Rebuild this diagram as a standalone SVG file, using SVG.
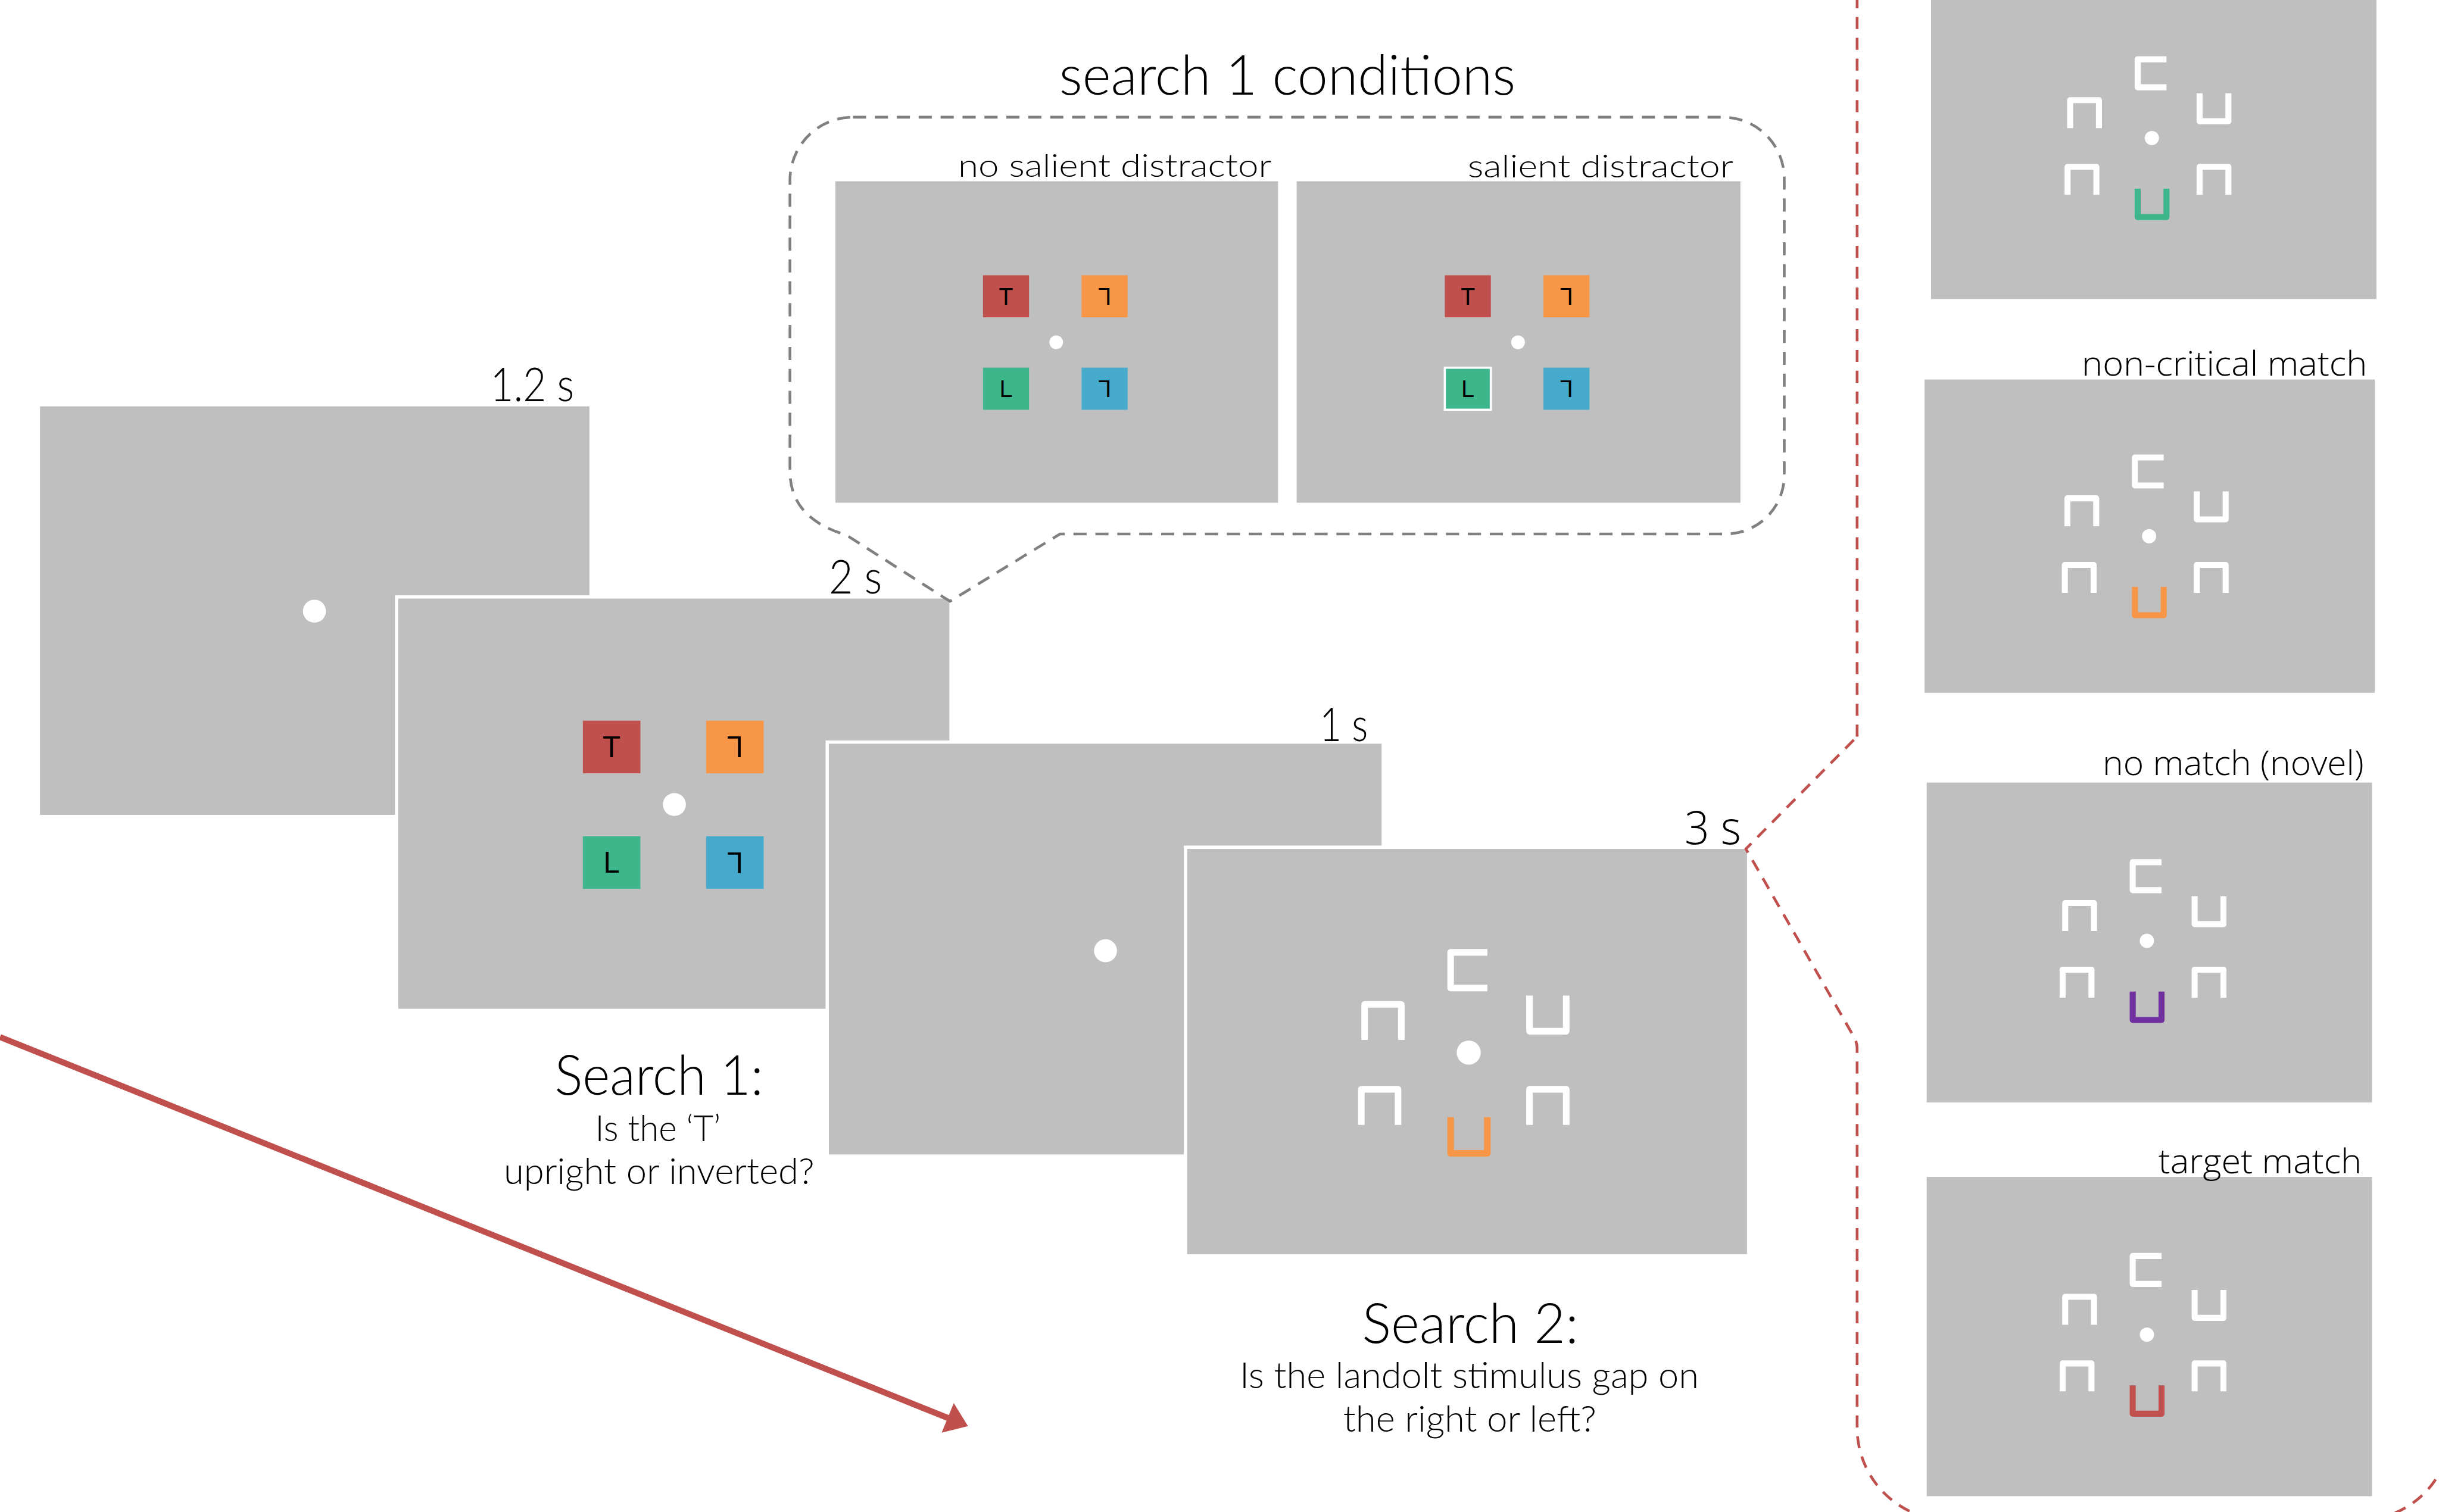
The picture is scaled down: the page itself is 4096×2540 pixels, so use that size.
<svg xmlns="http://www.w3.org/2000/svg" xmlns:xlink="http://www.w3.org/1999/xlink" width="4096" height="2540" viewBox="0 0 4096 2540">
  <style>
    .screen { fill: #bfbfbf; }
    .frame { fill: #bfbfbf; stroke: #ffffff; stroke-width: 6; }
    .fix { fill: #ffffff; }
    .txt { font-family: Lato, "Open Sans", "Liberation Sans", sans-serif; font-weight: 300; fill: #000000; }
    .wide { font-family: "Open Sans", Lato, "Liberation Sans", sans-serif; font-weight: 300; fill: #000000; }
    .head { font-size: 100px; }
    .sub { font-size: 67px; }
    .time { font-size: 85px; }
    .cond { font-size: 58px; }
    .match { font-size: 62px; }
    .letter { font-family: "Liberation Sans", Arial, sans-serif; font-size: 54px; fill: #000000; text-anchor: middle; }
    .ring { fill: none; stroke-linejoin: round; stroke-linecap: butt; }
    .bubble { fill: none; stroke: #808080; stroke-width: 5; stroke-dasharray: 24 16; }
    .bracket { fill: none; stroke: #c0504d; stroke-width: 5; stroke-dasharray: 22 16; }
  </style>
  <defs>
    <!-- four coloured letter tiles of the first search, centred on the fixation point -->
    <g id="search1-items">
      <rect x="-167" y="-153" width="105" height="96" fill="#c0504d"/>
      <rect x="58" y="-153" width="105" height="96" fill="#f79646"/>
      <rect x="-167" y="58" width="105" height="96" fill="#3db68c"/>
      <rect x="58" y="58" width="105" height="96" fill="#45aacb"/>
      <text class="letter" x="-114.5" y="-86">T</text>
      <text class="letter" x="110.5" y="-86" transform="rotate(180 110.5 -105)">L</text>
      <text class="letter" x="-114.5" y="125">L</text>
      <text class="letter" x="110.5" y="125" transform="rotate(180 110.5 106)">L</text>
    </g>
    <!-- five white Landolt squares around the fixation point -->
    <path id="landolt-white" d="M 34,-183 H -33 V -118 H 34 M -190,-23 V -88 H -123 V -23 M 111,-104 V -39 H 178 V -104 M -196,132 V 67 H -129 V 132 M 111,132 V 67 H 178 V 132"/>
    <!-- the coloured Landolt square below the fixation point -->
    <path id="landolt-colour" d="M -33,118 V 184 H 34 V 118"/>
  </defs>

  <rect width="4096" height="2540" fill="#ffffff"/>

  <g transform="scale(0.92)">
    <!-- trial sequence -->
    <g id="fixation-1">
      <rect class="frame" x="70" y="739" width="1009" height="752"/>
      <circle class="fix" cx="574" cy="1116" r="21"/>
      <text class="txt time" x="1048" y="733" text-anchor="end" textLength="153" lengthAdjust="spacingAndGlyphs">1.2 s</text>
    </g>

    <g id="search-1">
      <rect class="frame" x="724" y="1090" width="1012" height="755"/>
      <use xlink:href="#search1-items" transform="translate(1231,1469)"/>
      <circle class="fix" cx="1231" cy="1469" r="21"/>
      <text class="txt time" x="1610" y="1084" text-anchor="end" textLength="97" lengthAdjust="spacingAndGlyphs">2 s</text>
      <text class="txt head" x="1203" y="1999" text-anchor="middle" textLength="381" lengthAdjust="spacingAndGlyphs">Search 1:</text>
      <text class="txt sub" x="1201" y="2084" text-anchor="middle" textLength="229" lengthAdjust="spacingAndGlyphs">Is the ‘T’</text>
      <text class="txt sub" x="1203" y="2162" text-anchor="middle" textLength="567" lengthAdjust="spacingAndGlyphs">upright or inverted?</text>
    </g>

    <g id="fixation-2">
      <rect class="frame" x="1510" y="1355" width="1015" height="756"/>
      <circle class="fix" cx="2018" cy="1736" r="21"/>
      <text class="txt time" x="2497" y="1353" text-anchor="end" textLength="88" lengthAdjust="spacingAndGlyphs">1 s</text>
    </g>

    <g id="search-2">
      <rect class="frame" x="2164" y="1547" width="1028" height="746"/>
      <g transform="translate(2681,1922)">
        <use xlink:href="#landolt-white" class="ring" stroke="#ffffff" stroke-width="12"/>
        <use xlink:href="#landolt-colour" class="ring" stroke="#f79646" stroke-width="12"/>
      </g>
      <circle class="fix" cx="2681" cy="1922" r="22"/>
      <text class="wide time" x="3178" y="1541" text-anchor="end" textLength="103" lengthAdjust="spacingAndGlyphs">3 s</text>
      <text class="txt head" x="2684" y="2452" text-anchor="middle" textLength="395" lengthAdjust="spacingAndGlyphs">Search 2:</text>
      <text class="txt sub" x="2682" y="2535" text-anchor="middle" textLength="838" lengthAdjust="spacingAndGlyphs">Is the landolt stimulus gap on</text>
      <text class="txt sub" x="2683" y="2614" text-anchor="middle" textLength="462" lengthAdjust="spacingAndGlyphs">the right or left?</text>
    </g>

    <!-- search 1 condition call-out -->
    <g id="search1-conditions">
      <text class="txt head" x="2350" y="173" text-anchor="middle" textLength="833" lengthAdjust="spacingAndGlyphs">search 1 conditions</text>
    </g>

    <g id="no-salient-distractor">
      <rect class="screen" x="1525" y="331" width="808" height="587"/>
      <use xlink:href="#search1-items" transform="translate(1928,625) scale(0.8)"/>
      <circle class="fix" cx="1928" cy="625" r="12.5"/>
      <text class="txt cond" x="2321" y="323" text-anchor="end" textLength="572" lengthAdjust="spacingAndGlyphs">no salient distractor</text>
    </g>

    <g id="salient-distractor">
      <rect class="screen" x="2367" y="331" width="810" height="587"/>
      <use xlink:href="#search1-items" transform="translate(2771,625) scale(0.8)"/>
      <rect x="2637.4" y="671.4" width="84" height="76.8" fill="none" stroke="#ffffff" stroke-width="4"/>
      <circle class="fix" cx="2771" cy="625" r="12.5"/>
      <text class="txt cond" x="3164" y="324" text-anchor="end" textLength="485" lengthAdjust="spacingAndGlyphs">salient distractor</text>
    </g>

    <!-- search 2 match conditions -->
    <g id="critical-match">
      <rect class="screen" x="3525" y="-40" width="813" height="586"/>
      <g transform="translate(3928,252) scale(0.785)">
        <use xlink:href="#landolt-white" class="ring" stroke="#ffffff" stroke-width="14"/>
        <use xlink:href="#landolt-colour" class="ring" stroke="#3db68c" stroke-width="14"/>
      </g>
      <circle class="fix" cx="3928" cy="252" r="13"/>
    </g>

    <g id="non-critical-match">
      <rect class="screen" x="3513" y="693" width="822" height="572"/>
      <g transform="translate(3923,979) scale(0.785)">
        <use xlink:href="#landolt-white" class="ring" stroke="#ffffff" stroke-width="14"/>
        <use xlink:href="#landolt-colour" class="ring" stroke="#f79646" stroke-width="14"/>
      </g>
      <circle class="fix" cx="3923" cy="979" r="13"/>
      <text class="wide match" x="4321" y="686" text-anchor="end" textLength="521" lengthAdjust="spacingAndGlyphs">non-critical match</text>
    </g>

    <g id="no-match">
      <rect class="screen" x="3517" y="1429" width="813" height="584"/>
      <g transform="translate(3919,1718) scale(0.785)">
        <use xlink:href="#landolt-white" class="ring" stroke="#ffffff" stroke-width="14"/>
        <use xlink:href="#landolt-colour" class="ring" stroke="#7030a0" stroke-width="14"/>
      </g>
      <circle class="fix" cx="3919" cy="1718" r="13"/>
      <text class="wide match" x="4315" y="1415" text-anchor="end" textLength="477" lengthAdjust="spacingAndGlyphs">no match (novel)</text>
    </g>

    <g id="target-match">
      <rect class="screen" x="3517" y="2149" width="813" height="583"/>
      <g transform="translate(3919,2437) scale(0.785)">
        <use xlink:href="#landolt-white" class="ring" stroke="#ffffff" stroke-width="14"/>
        <use xlink:href="#landolt-colour" class="ring" stroke="#c0504d" stroke-width="14"/>
      </g>
      <circle class="fix" cx="3919" cy="2437" r="13"/>
      <text class="wide match" x="4311" y="2142" text-anchor="end" textLength="371" lengthAdjust="spacingAndGlyphs">target match</text>
    </g>

    <!-- connectors: call-out outlines and time arrow -->
    <g id="connectors">
      <path class="bubble" d="M 1557,214 H 3145 A 112 112 0 0 1 3257,326 V 868 A 107 107 0 0 1 3150,975 H 1935 L 1734,1098 L 1545,977 C 1478,957 1442,920 1442,860 V 329 A 115 115 0 0 1 1557,214 Z"/>
      <path class="bracket" d="M 3390,1345 V 5 A 169 169 0 0 1 3559,-164 H 4306 A 169 169 0 0 1 4475,5 V 2607 A 169 169 0 0 1 4306,2776 H 3559 A 169 169 0 0 1 3390,2607 V 1915 Q 3390,1903 3384,1893 L 3187,1550 Z"/>
      <line x1="0" y1="1893.6" x2="1735" y2="2591" stroke="#c0504d" stroke-width="11"/>
      <polygon points="1767,2604 1719,2616 1741,2562" fill="#c0504d"/>
    </g>
  </g>
</svg>
